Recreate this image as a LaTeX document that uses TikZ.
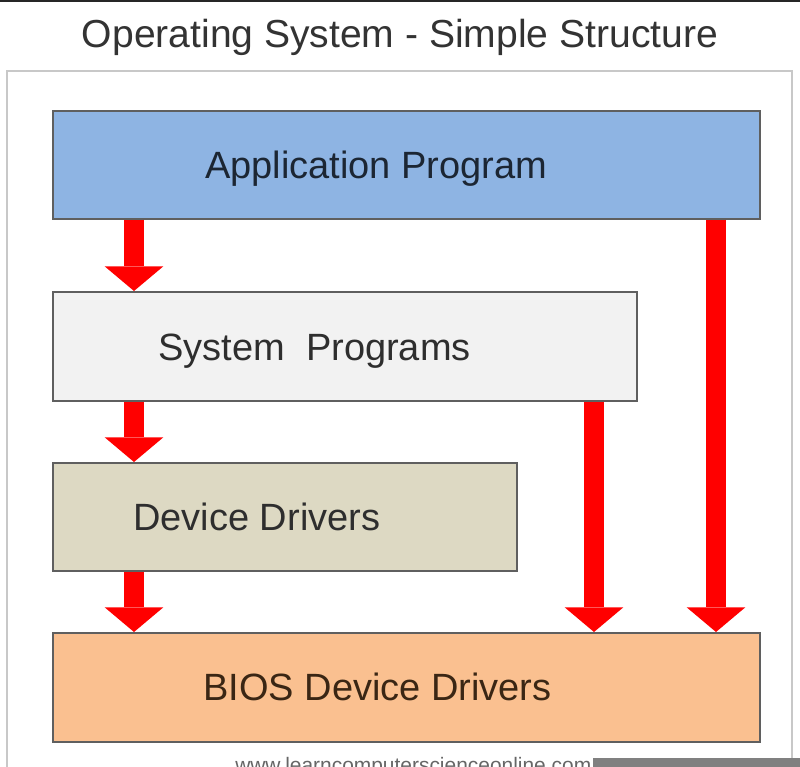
\documentclass[tikz,border=0pt]{standalone}
\usepackage{fontspec}
\setmainfont{Liberation Sans}
\usetikzlibrary{arrows.meta}
\definecolor{appblue}{HTML}{8EB4E3}
\definecolor{sysgray}{HTML}{F2F2F2}
\definecolor{devtan}{HTML}{DDD9C3}
\definecolor{biosorange}{HTML}{FAC090}
\definecolor{edgegray}{HTML}{5F5F5F}
\definecolor{framegray}{HTML}{C8C8C8}
\definecolor{titlegray}{HTML}{333333}
\definecolor{arrowred}{HTML}{FF0000}
\definecolor{apptext}{HTML}{1C2633}
\definecolor{biostext}{HTML}{3A2614}
\tikzset{
  layerbox/.style={draw=edgegray, line width=1.2pt, rectangle, inner sep=0pt, anchor=north west},
  layertext/.style={anchor=base west, inner sep=0pt, font=\fontsize{28.5}{30}\selectfont},
  bigarrow/.style={draw=arrowred, line width=15pt,
    -{Triangle[width=44pt, length=18.5pt, line width=0pt]}},
}
\begin{document}
\begin{tikzpicture}[x=0.75pt,y=-0.75pt]
\useasboundingbox (0,0) rectangle (800,767);
\fill[white] (0,0) rectangle (800,767);
% top edge line
\fill[black!85] (0,0) rectangle (800,2);
% title
\node (title) [anchor=base, inner sep=0pt, text=titlegray, font=\fontsize{29.3}{31}\selectfont] at (400,48) {Operating System - Simple Structure};
% outer frame
\draw[framegray, line width=1.2pt] (7,800) -- (7,71) -- (792,71) -- (792,800);
% boxes
\node (app) [layerbox, fill=appblue, minimum width=530.25pt, minimum height=81pt] at (52,110) {};
\node (sys) [layerbox, fill=sysgray, minimum width=438pt, minimum height=81.75pt] at (52,291) {};
\node (dev) [layerbox, fill=devtan, minimum width=348pt, minimum height=81pt] at (52,462) {};
\node (bios) [layerbox, fill=biosorange, minimum width=530.25pt, minimum height=81.75pt] at (52,632) {};
% labels
\node (appt) [layertext, text=apptext] at (205,178) {Application Program};
\node (syst) [layertext, text=black!82] at (158,360) {System\ \ Programs};
\node (devt) [layertext, text=black!82] at (133,530) {Device Drivers};
\node (biost) [layertext, text=biostext] at (203,700) {BIOS Device Drivers};
% arrows
\coordinate (c1) at (134,0);
\coordinate (c2) at (594,0);
\coordinate (c3) at (716,0);
\draw[bigarrow] (app.south -| c1) -- (sys.north -| c1);
\draw[bigarrow] (sys.south -| c1) -- (dev.north -| c1);
\draw[bigarrow] (dev.south -| c1) -- (bios.north -| c1);
\draw[bigarrow] (sys.south -| c2) -- (bios.north -| c2);
\draw[bigarrow] (app.south -| c3) -- (bios.north -| c3);
% watermark (cut off at the bottom, as in the reference)
\node (wm) [anchor=base west, inner sep=0pt, text=black!60, font=\fontsize{15.7}{17}\selectfont] at (235,772) {www.learncomputerscienceonline.com};
\fill[black!50] (593,758) rectangle (800,767);
\end{tikzpicture}
\end{document}
